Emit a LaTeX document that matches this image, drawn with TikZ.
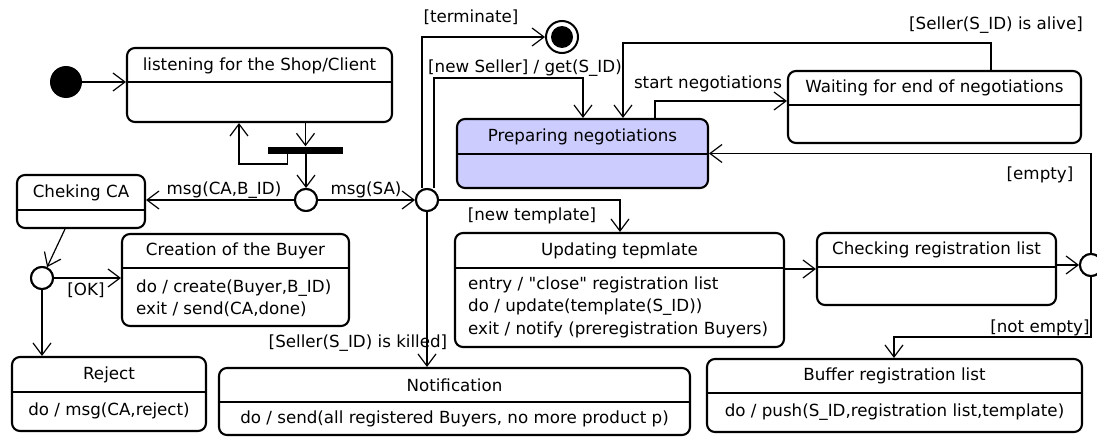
\documentclass[tikz,border=0pt]{standalone}
\usepackage{fontspec}
\setmainfont{DejaVu Sans}
\usetikzlibrary{arrows.meta}
\definecolor{prepfill}{RGB}{204,204,255}
\tikzset{
  state/.style={draw, line width=2.1pt, rounded corners=8pt, inner sep=0pt},
  divider/.style={line width=1.2pt},
  junction/.style={circle, draw, line width=2pt, fill=white, minimum size=22pt, inner sep=0pt},
  guard/.style={inner sep=0pt},
  trans/.style={->, line width=1.2pt},
}
\begin{document}
\begin{tikzpicture}[x=1pt, y=-1pt, >={Straight Barb[length=12pt,width=18pt]},
    font=\fontsize{16.7}{22.5}\selectfont]
    \useasboundingbox (0,0) rectangle (1097,439);
    % pseudo states
    \node [circle, fill=black, minimum size=32pt, inner sep=0pt] (init) at (66,82) {};
    \node [circle, draw, line width=2pt, minimum size=32pt, inner sep=0pt] (final) at (562,37) {};
    \fill (final) circle (11pt);
    \node [fill=black, minimum width=75pt, minimum height=7pt, inner sep=0pt] (fork) at (305.5,150) {};
    % states
    \node [state, minimum width=265pt, minimum height=74pt] (listen) at (259.5,85) {};
    \draw [divider] (listen.west |- 0,82) -- (listen.east |- 0,82);
    \node (listenT) at (259.5,65.5) {listening for the Shop/Client};
    \node [state, minimum width=128pt, minimum height=53pt] (checkca) at (81,201.5) {};
    \draw [divider] (checkca.west |- 0,210) -- (checkca.east |- 0,210);
    \node (checkcaT) at (81,192.5) {Cheking CA};
    \node [state, minimum width=227pt, minimum height=92pt] (create) at (235.5,280) {};
    \draw [divider] (create.west |- 0,268) -- (create.east |- 0,268);
    \node (createT) at (235.5,251) {Creation of the Buyer};
    \node [anchor=west, align=left, inner sep=0pt] (createB) at (136,298.5) {do / create(Buyer,B\_ID)\\exit / send(CA,done)};
    \node [state, minimum width=194pt, minimum height=74pt] (reject) at (109,394) {};
    \draw [divider] (reject.west |- 0,392) -- (reject.east |- 0,392);
    \node (rejectT) at (109,375) {Reject};
    \node (rejectB) at (109,411) {do / msg(CA,reject)};
    \node [state, minimum width=471pt, minimum height=67pt] (notif) at (454.5,401.5) {};
    \draw [divider] (notif.west |- 0,402) -- (notif.east |- 0,402);
    \node (notifT) at (454.5,385) {Notification};
    \node (notifB) at (454.5,419) {do / send(all registered Buyers, no more product p)};
    \node [state, fill=prepfill, minimum width=251pt, minimum height=69pt] (prep) at (582.5,153.5) {};
    \draw [divider] (prep.west |- 0,154) -- (prep.east |- 0,154);
    \node (prepT) at (582.5,137) {Preparing negotiations};
    \node [state, minimum width=293pt, minimum height=72pt] (waiting) at (934.5,107) {};
    \draw [divider] (waiting.west |- 0,105) -- (waiting.east |- 0,105);
    \node (waitingT) at (934.5,88) {Waiting for end of negotiations};
    \node [state, minimum width=329pt, minimum height=114pt] (update) at (619.5,290) {};
    \draw [divider] (update.west |- 0,268) -- (update.east |- 0,268);
    \node (updateT) at (619.5,251) {Updating tepmlate};
    \node [anchor=west, align=left, inner sep=0pt] (updateB) at (468,307) {entry / \textquotedbl close\textquotedbl{} registration list\\do / update(template(S\_ID))\\exit / notify (preregistration Buyers)};
    \node [state, minimum width=239pt, minimum height=72pt] (checkreg) at (936.5,269) {};
    \draw [divider] (checkreg.west |- 0,267) -- (checkreg.east |- 0,267);
    \node (checkregT) at (936.5,250) {Checking registration list};
    \node [state, minimum width=375pt, minimum height=73pt] (buffer) at (894.5,395.5) {};
    \draw [divider] (buffer.west |- 0,393) -- (buffer.east |- 0,393);
    \node (bufferT) at (894.5,376) {Buffer registration list};
    \node (bufferB) at (894.5,412) {do / push(S\_ID,registration list,template)};
    % junctions
    \node [junction] (j1) at (306,200) {};
    \node [junction] (j2) at (427,200) {};
    \node [junction] (ch1) at (42,278) {};
    \node [junction] (ch2) at (1091,265) {};
    % bends
    \coordinate (loopA) at (239,164);
    \coordinate (nsA) at (583,78);
    \coordinate (ntA) at (620,200);
    \coordinate (snA) at (655,101);
    \coordinate (alA) at (991,43);
    \coordinate (alB) at (623,43);
    \coordinate (neA) at (894,337);
    % transitions
    \draw [trans] (init) -- (init -| listen.west);
    \draw [trans] (fork |- listen.south) -- (fork.north);
    \draw [trans] (fork.south -| j1) -- (j1.north);
    \draw [trans] ([xshift=-18pt]fork.south) |- (loopA) -- (loopA |- listen.south);
    \draw [trans] (j1) -- (j1 -| checkca.east);
    \draw [trans] (j1) -- (j2);
    \draw [trans] ([xshift=-16pt]checkca.south) -- (ch1);
    \draw [trans] (ch1) -- (ch1 -| create.west);
    \draw [trans] (ch1) -- (ch1 |- reject.north);
    \draw [trans] ([xshift=-5pt]j2.north) |- (final);
    \draw [trans] ([xshift=7pt]j2.north) |- (nsA) -- (nsA |- prep.north);
    \draw [trans] (j2) -- (ntA) -- (ntA |- update.north);
    \draw [trans] (j2) -- (j2 |- notif.north);
    \draw [trans] (snA |- prep.north) -- (snA) -- (snA -| waiting.west);
    \draw [trans] (alA |- waiting.north) -- (alA) -- (alB) -- (alB |- prep.north);
    \draw [trans] (checkreg.west -| update.east) -- (checkreg.west);
    \draw [trans] (ch2 -| checkreg.east) -- (ch2);
    \draw [trans] (ch2.north) |- (prep.east);
    \draw [trans] (ch2.south) |- (neA) -- (neA |- buffer.north);
    % redraw junctions over lines
    \node [junction] at (j1) {};
    \node [junction] at (j2) {};
    \node [junction] at (ch1) {};
    \node [junction] at (ch2) {};
    % guards and events
    \node [guard] (lCA) at (224,190) {msg(CA,B\_ID)};
    \node [guard] (lSA) at (366,190) {msg(SA)};
    \node [guard] (lOK) at (86,290) {[OK]};
    \node [guard] (lTerm) at (471,17) {[terminate]};
    \node [guard] (lSeller) at (525,68) {[new Seller] / get(S\_ID)};
    \node [guard] (lTempl) at (532,216) {[new template]};
    \node [guard] (lKilled) at (358,343) {[Seller(S\_ID) is killed]};
    \node [guard] (lStart) at (708,84) {start negotiations};
    \node [guard] (lAlive) at (996,25) {[Seller(S\_ID) is alive]};
    \node [guard] (lEmpty) at (1040,175) {[empty]};
    \node [guard] (lNotEmpty) at (1040,328) {[not empty]};
\end{tikzpicture}
\end{document}
